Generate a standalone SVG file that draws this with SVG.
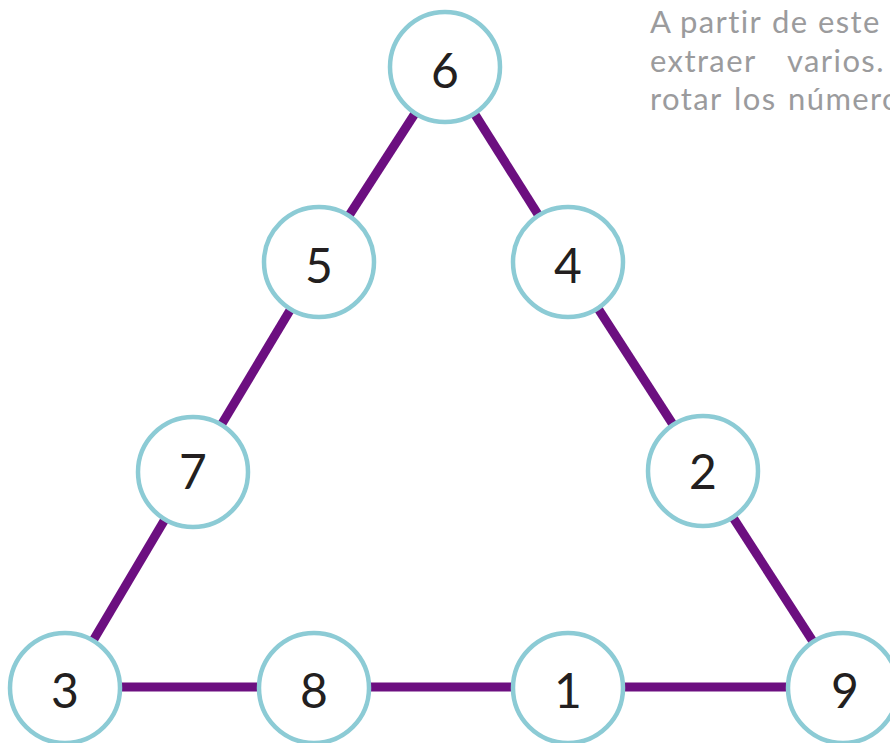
<svg xmlns="http://www.w3.org/2000/svg" width="890" height="743" viewBox="0 0 890 743">
<style>
.edge{stroke:#6c0f80;stroke-width:9;stroke-linecap:butt;fill:none}
.node circle{fill:#ffffff;stroke:#8ccbd5;stroke-width:4.5}
.node text{font-family:Lato,"Open Sans",sans-serif;font-size:48px;fill:#231f20;text-anchor:middle;dominant-baseline:central}
.para{font-family:Lato,"Open Sans",sans-serif;font-size:31px;fill:#9b9b9d;letter-spacing:1.4px}
</style>
<rect width="890" height="743" fill="#ffffff"/>
<g id="connectors">
<line class="edge" x1="445" y1="67" x2="319" y2="262"/>
<line class="edge" x1="319" y1="262" x2="193" y2="472"/>
<line class="edge" x1="193" y1="472" x2="65" y2="688"/>
<line class="edge" x1="445" y1="67" x2="568" y2="262"/>
<line class="edge" x1="568" y1="262" x2="703" y2="471"/>
<line class="edge" x1="703" y1="471" x2="843" y2="688"/>
<line class="edge" x1="65" y1="687" x2="843" y2="687"/>
</g>
<g id="n6" class="node"><circle cx="445" cy="67" r="55"/><text x="445" y="69">6</text></g>
<g id="n5" class="node"><circle cx="319" cy="262" r="55"/><text x="319" y="264">5</text></g>
<g id="n4" class="node"><circle cx="568" cy="262" r="55"/><text x="568" y="264">4</text></g>
<g id="n7" class="node"><circle cx="193" cy="472" r="55"/><text x="193" y="470">7</text></g>
<g id="n2" class="node"><circle cx="703" cy="471" r="55"/><text x="703" y="470">2</text></g>
<g id="n3" class="node"><circle cx="65" cy="688" r="55"/><text x="65" y="689">3</text></g>
<g id="n8" class="node"><circle cx="314" cy="688" r="55"/><text x="314" y="689">8</text></g>
<g id="n1" class="node"><circle cx="568" cy="688" r="55"/><text x="568" y="689">1</text></g>
<g id="n9" class="node"><circle cx="843" cy="688" r="55"/><text x="845" y="689">9</text></g>
<g id="text">
<text class="para" y="33"><tspan x="650">A</tspan><tspan x="680">partir</tspan><tspan x="772">de</tspan><tspan x="818">este</tspan></text>
<text class="para" y="72"><tspan x="650">extraer</tspan><tspan x="787">varios.</tspan></text>
<text class="para" y="110"><tspan x="650">rotar</tspan><tspan x="734">los</tspan><tspan x="788">número</tspan></text>
</g>
</svg>
